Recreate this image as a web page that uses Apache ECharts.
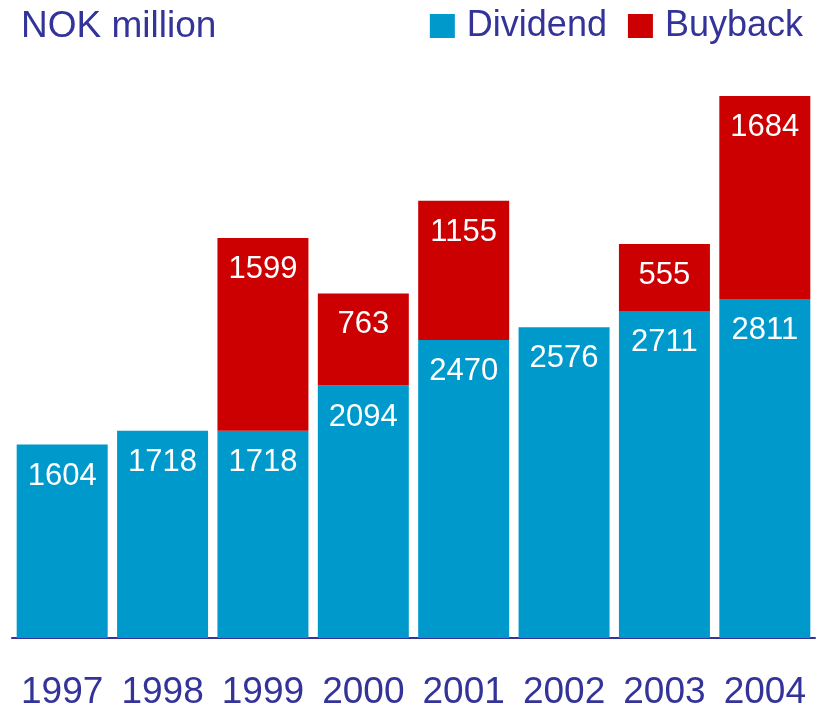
<!DOCTYPE html>
<html lang="en">
<head>
    <meta charset="utf-8">
    <title>Dividend and buyback</title>
    <script src="https://cdn.jsdelivr.net/npm/echarts@6/dist/echarts.min.js"></script>
    <style>
        html, body { margin: 0; padding: 0; background: #fff; }
    </style>
</head>
<body>
    <div id="main" style="width:827px;height:711px;"></div>

    <script type="text/javascript">
    // data
    var years = ['1997', '1998', '1999', '2000', '2001', '2002', '2003', '2004'];
    var dividend = [1604, 1718, 1718, 2094, 2470, 2576, 2711, 2811];
    var buyback = [null, null, 1599, 763, 1155, null, 555, 1684];

    var ink = '#333399';
    var font = 'Liberation Sans, Arial, sans-serif';

    var myChart = echarts.init(document.getElementById('main'));

    var barLabel = {
        show: true,
        position: 'insideTop',
        distance: 16,
        color: '#fff',
        fontSize: 31,
        fontFamily: font
    };

    myChart.setOption({
        animation: false,
        title: {
            text: 'NOK million',
            left: 21,
            top: 8,
            padding: 0,
            textStyle: { color: ink, fontSize: 37, fontWeight: 'normal', fontFamily: font }
        },
        legend: {
            data: ['Dividend', 'Buyback'],
            right: 24,
            top: 8,
            padding: 0,
            itemWidth: 25,
            itemHeight: 24,
            itemGap: 21,
            icon: 'rect',
            textStyle: { color: ink, fontSize: 36, fontFamily: font, padding: [0, 0, 0, 7] }
        },
        grid: { left: 12, right: 12, top: 35, bottom: 71, containLabel: false },
        xAxis: {
            type: 'category',
            data: years,
            axisLine: { lineStyle: { color: ink, width: 2 } },
            axisTick: { show: false },
            axisLabel: { color: ink, fontSize: 37, fontFamily: font, margin: 36, interval: 0 }
        },
        yAxis: {
            type: 'value',
            min: 0,
            max: 5000,
            show: false,
            splitLine: { show: false }
        },
        series: [{
            name: 'Dividend',
            type: 'bar',
            stack: 'total',
            barWidth: 91,
            itemStyle: { color: '#0099CC' },
            label: barLabel,
            data: dividend
        }, {
            name: 'Buyback',
            type: 'bar',
            stack: 'total',
            barWidth: 91,
            itemStyle: { color: '#CC0000' },
            label: barLabel,
            data: buyback
        }]
    });
    </script>
</body>
</html>
